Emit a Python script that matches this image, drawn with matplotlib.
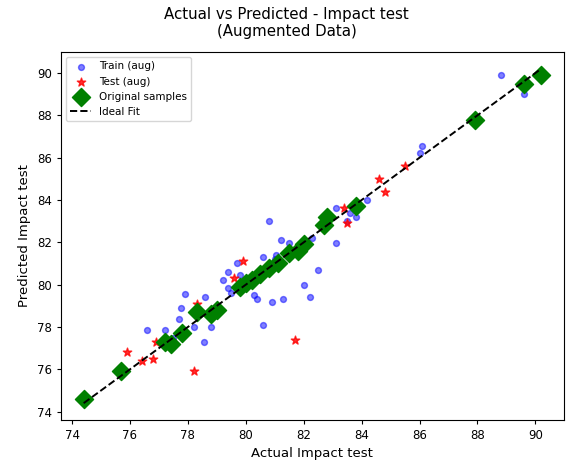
import matplotlib
matplotlib.use("Agg")
import matplotlib.pyplot as plt

# Augmented training points (actual, predicted)
train_actual = [80.8, 81.2, 81.5, 80.6, 79.7, 81.05, 79.4, 79.2, 79.4, 79.8,
                82.5, 82.0, 82.2, 81.3, 80.9, 80.4, 80.3, 80.6, 77.9, 78.6,
                77.75, 77.7, 76.6, 77.2, 78.8, 78.2, 78.55, 83.1, 84.2, 83.8,
                83.1, 83.5, 88.8, 89.6, 86.1, 86.0, 80.1, 81.0, 77.5, 79.5,
                82.3, 83.6]
train_pred = [83.0, 82.1, 81.95, 81.3, 81.0, 81.4, 80.6, 80.2, 79.85, 80.45,
              80.7, 80.0, 79.4, 79.3, 79.2, 79.3, 79.5, 78.1, 79.55, 79.4,
              78.9, 78.4, 77.85, 77.85, 78.0, 78.0, 77.3, 83.6, 84.0, 83.2,
              81.95, 83.0, 89.9, 89.0, 86.55, 86.2, 80.3, 81.2, 77.5, 79.6,
              82.2, 83.4]

# Augmented test points (actual, predicted)
test_actual = [79.9, 78.3, 81.7, 75.9, 76.4, 76.8, 76.9, 78.2, 79.6, 84.8,
               84.6, 85.5, 83.4, 83.5]
test_pred = [81.1, 79.1, 77.4, 76.8, 76.4, 76.5, 77.3, 75.9, 80.3, 84.4,
             85.0, 85.6, 83.6, 82.9]

# Original (non-augmented) samples
orig_actual = [74.4, 75.7, 77.2, 77.4, 77.8, 78.3, 78.8, 79.0, 79.8, 80.0,
               80.2, 80.5, 80.8, 81.1, 81.5, 81.8, 82.0, 82.7, 82.8, 83.8,
               87.9, 89.6, 90.2]
orig_pred = [74.6, 75.9, 77.3, 77.2, 77.7, 78.7, 78.6, 78.8, 79.9, 80.1,
             80.2, 80.5, 80.8, 81.0, 81.5, 81.6, 81.9, 82.8, 83.2, 83.7,
             87.8, 89.5, 89.9]

# ends of the y = x reference line
fit_range = [74.4, 90.2]


def main():
    fig = plt.figure(figsize=(5.68, 4.65), dpi=100)
    ax = fig.add_axes([0.107, 0.097, 0.886, 0.791])

    ax.scatter(train_actual, train_pred, s=18, c="blue", alpha=0.5,
               label="Train (aug)")
    ax.scatter(test_actual, test_pred, s=40, c="red", marker="*", alpha=0.8,
               label="Test (aug)")
    ax.scatter(orig_actual, orig_pred, s=85, c="green", marker="D",
               label="Original samples")
    ax.plot(fit_range, fit_range, "k--", lw=1.4, label="Ideal Fit")

    fig.suptitle("Actual vs Predicted - Impact test\n(Augmented Data)",
                 fontsize=10.8, x=0.505, y=0.985)
    ax.set_xlabel("Actual Impact test", fontsize=9.5)
    ax.set_ylabel("Predicted Impact test", fontsize=9.5)
    ax.tick_params(labelsize=8.5, length=3)
    ax.set_xticks(range(74, 92, 2))
    ax.set_yticks(range(74, 92, 2))
    ax.legend(loc="upper left", fontsize=7.5)

    fig.savefig("out.png", dpi=100)


if __name__ == "__main__":
    main()
